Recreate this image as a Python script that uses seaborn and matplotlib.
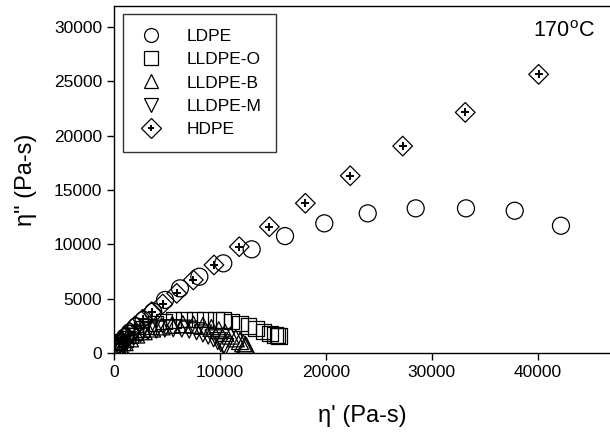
import matplotlib
matplotlib.use("Agg")
import matplotlib.pyplot as plt
import seaborn as sns
from matplotlib.lines import Line2D

# eta' / eta'' (Pa-s)
ldpe_x = [280, 450, 700, 1050, 1500, 2100, 2800, 3700, 4820, 6230, 8060, 10320, 13000, 16150, 19860, 23960, 28490, 33240, 37840, 42210]
ldpe_y = [450, 700, 1050, 1450, 1900, 2450, 3050, 3800, 4880, 5950, 7020, 8250, 9540, 10760, 11930, 12850, 13310, 13310, 13090, 11710]

lldpe_o_x = [300, 500, 800, 1100, 1500, 2000, 2600, 3200, 3900, 4700, 5600, 6610, 7650, 8590, 9630, 10320, 11110, 11900, 12680, 13400, 14100, 14730, 15200, 15450, 15600]
lldpe_o_y = [450, 700, 1000, 1300, 1600, 1900, 2200, 2450, 2700, 2900, 3040, 3100, 3100, 3100, 3040, 3040, 2880, 2730, 2480, 2270, 1960, 1810, 1660, 1600, 1550]

lldpe_b_x = [300, 600, 1000, 1500, 2100, 2800, 3600, 4500, 5500, 6500, 7500, 8400, 9200, 9900, 10500, 11000, 11500, 11900, 12200, 12400, 12500]
lldpe_b_y = [400, 700, 1000, 1350, 1700, 2000, 2250, 2450, 2600, 2650, 2600, 2500, 2300, 2100, 1850, 1600, 1350, 1100, 900, 750, 650]

lldpe_m_x = [250, 500, 850, 1300, 1850, 2500, 3200, 4000, 4800, 5600, 6400, 7100, 7800, 8400, 8900, 9400, 9800, 10100, 10350, 10500]
lldpe_m_y = [350, 600, 900, 1200, 1500, 1780, 2000, 2150, 2250, 2280, 2250, 2150, 2000, 1800, 1600, 1350, 1100, 900, 700, 550]

hdpe_x = [450, 700, 1000, 1450, 2000, 2700, 3560, 4600, 5920, 7490, 9440, 11830, 14670, 18070, 22310, 27260, 33170, 40100]
hdpe_y = [800, 1100, 1500, 1950, 2500, 3100, 3800, 4510, 5490, 6720, 8100, 9780, 11620, 13780, 16310, 19040, 22140, 25640]

xticks = [0, 10000, 20000, 30000, 40000]
yticks = [0, 5000, 10000, 15000, 20000, 25000, 30000]

sns.set_style("ticks")
plt.rcParams['font.family'] = ['Liberation Sans', 'DejaVu Sans']
plt.rcParams['text.color'] = 'black'
plt.rcParams['axes.labelcolor'] = 'black'

fig = plt.figure(figsize=(6.1, 4.4), dpi=100)
ax = fig.add_axes([114 / 610, 1 - 353 / 440, 496 / 610, 347 / 440])

series = [
    ("LDPE", ldpe_x, ldpe_y, "o", 150),
    ("LLDPE-O", lldpe_o_x, lldpe_o_y, "s", 125),
    ("LLDPE-B", lldpe_b_x, lldpe_b_y, "^", 150),
    ("LLDPE-M", lldpe_m_x, lldpe_m_y, "v", 150),
    ("HDPE", hdpe_x, hdpe_y, "D", 100),
]

for name, xs, ys, mk, sz in series:
    sns.scatterplot(x=xs, y=ys, marker=mk, s=sz, facecolor="none",
                    edgecolor="black", linewidth=0.9, ax=ax, zorder=3)

# plus sign inside the HDPE diamonds
sns.scatterplot(x=hdpe_x, y=hdpe_y, marker="+", s=30, color="black",
                linewidth=1.4, ax=ax, zorder=4)

ax.set_xlim(0, 46840)
ax.set_ylim(0, 31930)
ax.set_xticks(xticks)
ax.set_yticks(yticks)
ax.tick_params(direction="out", length=5, width=1, labelsize=12.5, colors="black")
ax.spines['right'].set_visible(False)
for s in ['left', 'bottom', 'top']:
    ax.spines[s].set_linewidth(1)
    ax.spines[s].set_color("black")

ax.set_xlabel("η' (Pa-s)", fontsize=17, labelpad=18)
ax.set_ylabel('η" (Pa-s)', fontsize=17, labelpad=12)

ax.text(45420, 29070, "170$^{\\mathregular{o}}$C", fontsize=15.5,
        ha="right", va="baseline")

# legend
handles = []
for name, xs, ys, mk, sz in series:
    handles.append(Line2D([], [], ls="none", marker=mk, markersize=10,
                          markerfacecolor="none", markeredgecolor="black",
                          markeredgewidth=0.9))
plus = Line2D([], [], ls="none", marker="+", markersize=5,
              markeredgecolor="black", markeredgewidth=1.4)
handles[-1] = (handles[-1], plus)
labels = [s[0] for s in series]
leg = ax.legend(handles, labels, loc="upper left",
                bbox_to_anchor=(9 / 496, 1 - 8 / 347), borderaxespad=0,
                fontsize=12.5, frameon=True, fancybox=False, labelspacing=0.47,
                handlelength=1.5, handletextpad=1.3, borderpad=0.85)
leg.get_frame().set_edgecolor("black")
leg.get_frame().set_linewidth(1)

fig.savefig("out.png", dpi=100)
